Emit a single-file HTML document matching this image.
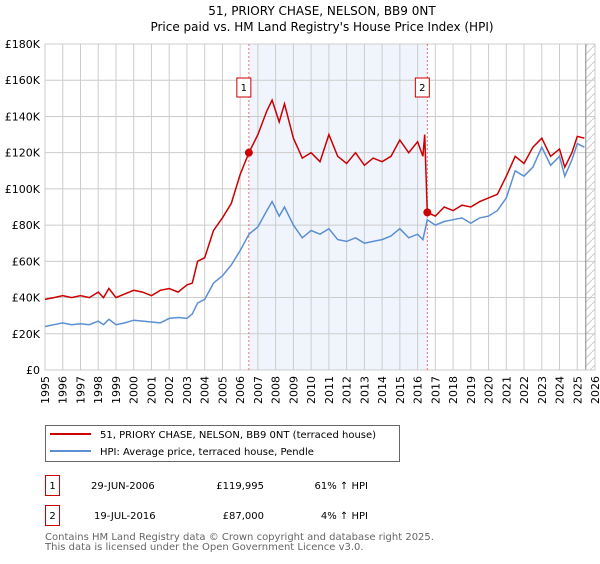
<!DOCTYPE html>
<html><head><meta charset="utf-8"><style>
body{margin:0;background:#fff;width:600px;height:560px;overflow:hidden;font-family:"DejaVu Sans","Liberation Sans",sans-serif;}
svg text{font-family:"DejaVu Sans","Liberation Sans",sans-serif;}
</style></head><body>
<svg id="c" width="600" height="560">
<text x="322" y="15" font-size="12" text-anchor="middle">51, PRIORY CHASE, NELSON, BB9 0NT</text>
<text x="322" y="31" font-size="12" text-anchor="middle">Price paid vs. HM Land Registry's House Price Index (HPI)</text>
<g id="plot"></g>
<g>
<rect x="45.5" y="425.5" width="354" height="36" fill="#fff" stroke="#666"/>
<line x1="50" y1="434" x2="91" y2="434" stroke="#cc0000" stroke-width="2"/>
<text x="100" y="438" font-size="10">51, PRIORY CHASE, NELSON, BB9 0NT (terraced house)</text>
<line x1="50" y1="451" x2="91" y2="451" stroke="#5b8fd4" stroke-width="2"/>
<text x="100" y="455" font-size="10">HPI: Average price, terraced house, Pendle</text>
</g>
<g font-size="10">
<rect x="45.5" y="475.5" width="14" height="20" fill="#fff" stroke="#cc0000"/>
<text x="52.5" y="489" text-anchor="middle">1</text>
<text x="91" y="489">29-JUN-2006</text>
<text x="264" y="489" text-anchor="end">£119,995</text>
<text x="368" y="489" text-anchor="end">61% ↑ HPI</text>
<rect x="45.5" y="505.5" width="14" height="20" fill="#fff" stroke="#cc0000"/>
<text x="52.5" y="519" text-anchor="middle">2</text>
<text x="94" y="519">19-JUL-2016</text>
<text x="264" y="519" text-anchor="end">£87,000</text>
<text x="368" y="519" text-anchor="end">4% ↑ HPI</text>
</g>
<text x="45" y="540" font-size="10" fill="#666">Contains HM Land Registry data © Crown copyright and database right 2025.</text>
<text x="45" y="550" font-size="10" fill="#666">This data is licensed under the Open Government Licence v3.0.</text>
</svg>
<script>
const yTicks=[0,20,40,60,80,100,120,140,160,180];
const yLabels=["£0","£20K","£40K","£60K","£80K","£100K","£120K","£140K","£160K","£180K"];
const xYears=[1995,1996,1997,1998,1999,2000,2001,2002,2003,2004,2005,2006,2007,2008,2009,2010,2011,2012,2013,2014,2015,2016,2017,2018,2019,2020,2021,2022,2023,2024,2025,2026];
const hpiT=[1995,1995.5,1996,1996.5,1997,1997.5,1998,1998.3,1998.6,1999,1999.5,2000,2000.5,2001,2001.5,2002,2002.5,2003,2003.3,2003.6,2004,2004.5,2005,2005.5,2006,2006.5,2007,2007.5,2007.8,2008.2,2008.5,2009,2009.5,2010,2010.5,2011,2011.5,2012,2012.5,2013,2013.5,2014,2014.5,2015,2015.5,2016,2016.3,2016.55,2017,2017.5,2018,2018.5,2019,2019.5,2020,2020.5,2021,2021.5,2022,2022.5,2023,2023.5,2024,2024.3,2024.7,2025,2025.4];
const hpiV=[24,25,26,25,25.5,25,27,25,28,25,26,27.5,27,26.5,26,28.5,29,28.5,31,37,39,48,52,58,66,75,79,88,93,85,90,80,73,77,75,78,72,71,73,70,71,72,74,78,73,75,72,83,80,82,83,84,81,84,85,88,95,110,107,112,123,113,118,107,116,125,123];
const ppT=[1995,1995.5,1996,1996.5,1997,1997.5,1998,1998.3,1998.6,1999,1999.5,2000,2000.5,2001,2001.5,2002,2002.5,2003,2003.3,2003.6,2004,2004.5,2005,2005.5,2006,2006.49,2007,2007.5,2007.8,2008.2,2008.5,2009,2009.5,2010,2010.5,2011,2011.5,2012,2012.5,2013,2013.5,2014,2014.5,2015,2015.5,2016,2016.3,2016.4,2016.55,2017,2017.5,2018,2018.5,2019,2019.5,2020,2020.5,2021,2021.5,2022,2022.5,2023,2023.5,2024,2024.3,2024.7,2025,2025.4];
const ppV=[39,40,41,40,41,40,43,40,45,40,42,44,43,41,44,45,43,47,48,60,62,77,84,92,108,120,130,143,149,137,147,128,117,120,115,130,118,114,120,113,117,115,118,127,120,126,118,130,87,85,90,88,91,90,93,95,97,107,118,114,123,128,118,122,112,120,129,128];
const saleT=[2006.49,2016.55];
const saleV=[119.995,87];
const X0=45,X1=595,Y0=370,Y1=44;
function sx(t){return X0+(t-1995)/31*(X1-X0);}
function sy(v){return Y0-v/180*(Y0-Y1);}
const NS="http://www.w3.org/2000/svg";
const g=document.getElementById('plot');
function mk(tag,a){const e=document.createElementNS(NS,tag);for(const k in a)e.setAttribute(k,a[k]);g.appendChild(e);return e;}
let r=mk('rect',{x:sx(saleT[0]),y:Y1,width:sx(saleT[1])-sx(saleT[0]),height:Y0-Y1,fill:'#f0f4fd'});


const hx=sx(2025.48);
let defs=document.createElementNS(NS,'defs');defs.innerHTML='<pattern id="h" width="8" height="8" patternUnits="userSpaceOnUse"><path d="M0 8 L8 0" stroke="#ccc" stroke-width="1"/></pattern>';g.appendChild(defs);
let hr=mk('rect',{x:hx,y:Y1,width:X1-hx,height:Y0-Y1,fill:'url(#h)'});


yTicks.forEach((v,i)=>{
 mk('line',{x1:X0,x2:X1,y1:sy(v),y2:sy(v),stroke:'#ccc'});
 const t=mk('text',{x:X0-5,y:sy(v)+4,'font-size':11,'text-anchor':'end'});t.textContent=yLabels[i];
 
 
});
xYears.forEach(y=>{
 mk('line',{x1:sx(y),x2:sx(y),y1:Y1,y2:Y0,stroke:'#ccc'});
 const t=mk('text',{x:0,y:0,'font-size':11,'text-anchor':'end',transform:`translate(${sx(y)+4},${Y0+6}) rotate(-90)`});t.textContent=y;
 
 
});
mk('line',{x1:hx,x2:hx,y1:Y1,y2:Y0,stroke:'#888'});
mk('rect',{x:X0,y:Y1,width:X1-X0,height:Y0-Y1,fill:'none',stroke:'#ccc'});
saleT.forEach((t,i)=>{
 const l=mk('line',{x1:sx(t),x2:sx(t),y1:Y1,y2:Y0,stroke:'#f07070','stroke-dasharray':'2,2'});
 
 
});
function path(T,V,col,name){
 const p=mk('path',{d:T.map((t,i)=>(i?'L':'M')+sx(t).toFixed(1)+' '+sy(V[i]).toFixed(1)).join(''),fill:'none',stroke:col,'stroke-width':1.5});
 
 
}
path(hpiT,hpiV,'#5b8fd4','hpi-line');
path(ppT,ppV,'#cc0000','price-paid-line');
saleT.forEach((t,i)=>{
 const c=mk('circle',{cx:sx(t),cy:sy(saleV[i]),r:4,fill:'#cc0000'});
 
 
 const bx=sx(t)-12;
 const b=mk('rect',{x:bx,y:78,width:14,height:19,fill:'#fff',stroke:'#cc0000'});
 
 
 const tx=mk('text',{x:bx+7,y:91,'font-size':10,'text-anchor':'middle'});tx.textContent=i+1;
});
</script>
</body></html>
